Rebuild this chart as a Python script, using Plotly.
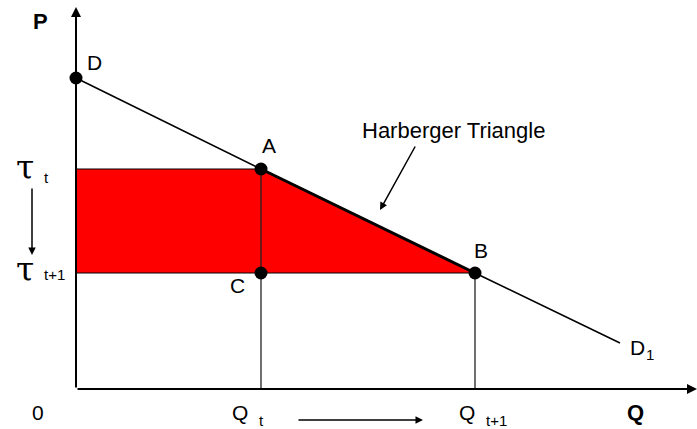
import plotly.graph_objects as go

# demand curve D -> A -> B -> D1 (quantity, price in chart units)
demand_q = [0, 185, 399, 544]
demand_p = [311, 220, 116, 46]

# labelled points
point_q = [0, 185, 399, 185]
point_p = [311, 220, 116, 116]
point_labels = ['D', 'A', 'B', 'C']

# shaded area: revenue rectangle + Harberger triangle
loss_q = [0, 185, 399, 0, 0]
loss_p = [220, 220, 116, 116, 220]

# price levels and quantities
tau_t, tau_t1 = 220, 116
q_t, q_t1 = 185, 399

FONT = 'Liberation Sans, Arial, sans-serif'
SERIF = 'DejaVu Serif, Liberation Serif, serif'
INK = '#000000'

fig = go.Figure()

fig.add_trace(go.Scatter(x=loss_q, y=loss_p, fill='toself', fillcolor='#ff0000',
                         mode='lines', line=dict(color=INK, width=1),
                         hoverinfo='skip', showlegend=False))

# drop lines from A and B to the Q axis
for q, p in [(q_t, tau_t), (q_t1, tau_t1)]:
    fig.add_trace(go.Scatter(x=[q, q], y=[p, 0], mode='lines',
                             line=dict(color='#222222', width=1.3),
                             hoverinfo='skip', showlegend=False))

fig.add_trace(go.Scatter(x=demand_q, y=demand_p, mode='lines',
                         line=dict(color=INK, width=1.6),
                         hoverinfo='skip', showlegend=False))
# heavier hypotenuse of the triangle
fig.add_trace(go.Scatter(x=demand_q[1:3], y=demand_p[1:3], mode='lines',
                         line=dict(color=INK, width=3),
                         hoverinfo='skip', showlegend=False))

fig.add_trace(go.Scatter(x=point_q, y=point_p, mode='markers',
                         marker=dict(color=INK, size=13),
                         cliponaxis=False, hoverinfo='skip', showlegend=False))


def arrow(x0, y0, x1, y1, width=2, head=2, size=1.0):
    fig.add_annotation(x=x1, y=y1, ax=x0, ay=y0, xref='x', yref='y',
                       axref='x', ayref='y', text='', showarrow=True,
                       arrowhead=head, arrowsize=size, arrowwidth=width,
                       arrowcolor=INK, standoff=0, startstandoff=0)


def label(x, y, text, size=21, bold=False, family=FONT, anchor='center'):
    if bold:
        text = '<b>' + text + '</b>'
    fig.add_annotation(x=x, y=y, xref='x', yref='y', text=text, showarrow=False,
                       xanchor=anchor, yanchor='middle',
                       font=dict(family=family, size=size, color=INK))


# axes with arrow heads
arrow(0, 0, 621, 0, width=2)
arrow(0, 0, 0, 382, width=2)

# point labels
label(18, 327, 'D')
label(193, 244, 'A')
label(405, 139, 'B')
label(161, 104, 'C')
label(561, 42, 'D')
label(574, 35, '1', size=15)

label(-36, 368, 'P', size=22, bold=True)
label(559, -23, 'Q', size=22, bold=True)
label(-38, -23, '0')

# price labels
label(-51, 222, 'τ', size=33, family=SERIF)
label(-30, 212, 't', size=15)
label(-51, 120, 'τ', size=33, family=SERIF)
label(-22, 115, 't+1', size=15)
arrow(-44, 202, -44, 134, width=1.5)

# quantity labels
label(164, -23, 'Q')
label(185, -31, 't', size=15)
label(391, -23, 'Q')
label(420, -31, 't+1', size=15)
arrow(221, -31, 347, -31, width=1.5)

label(284, 259, 'Harberger Triangle', size=22, anchor='left')
arrow(340, 244, 304, 179, width=1.5)

fig.update_xaxes(range=[-76, 621], visible=False, fixedrange=True)
fig.update_yaxes(range=[-40, 389], visible=False, fixedrange=True)
fig.update_layout(width=697, height=429, margin=dict(l=0, r=0, t=0, b=0),
                  paper_bgcolor='white', plot_bgcolor='white',
                  font=dict(family=FONT, color=INK))

fig.write_html('out.html', config={'displayModeBar': False},
               post_script="document.body.style.margin='0';")
